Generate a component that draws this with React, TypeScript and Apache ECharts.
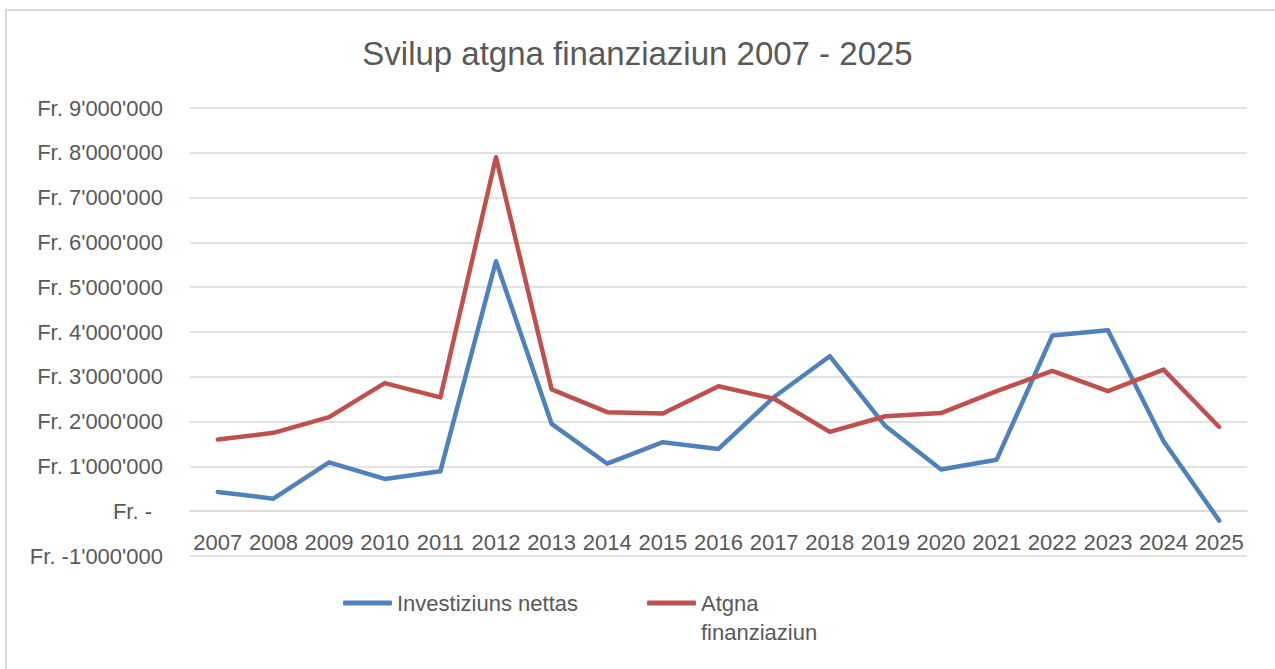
import React, { useEffect, useRef } from "react";
import * as echarts from "echarts";

const years = ["2007","2008","2009","2010","2011","2012","2013","2014","2015","2016","2017","2018","2019","2020","2021","2022","2023","2024","2025"];
const investiziunsNettas = [430000, 280000, 1090000, 720000, 890000, 5580000, 1950000, 1060000, 1540000, 1390000, 2550000, 3460000, 1900000, 930000, 1150000, 3920000, 4040000, 1560000, -210000];
const atgnaFinanziaziun = [1600000, 1750000, 2100000, 2860000, 2540000, 7900000, 2720000, 2210000, 2180000, 2790000, 2510000, 1770000, 2120000, 2190000, 2680000, 3130000, 2680000, 3160000, 1880000];

const FONT = "'Liberation Sans', Arial, sans-serif";
const TXT = "#595959";

function fmt(v: number): string {
  if (v === 0) return "{z|Fr. -}";
  const s = Math.abs(v).toString().replace(/\B(?=(\d{3})+(?!\d))/g, "'");
  return "Fr. " + (v < 0 ? "-" : "") + s;
}

export default function App() {
  const ref = useRef<HTMLDivElement>(null);
  useEffect(() => {
    if (!ref.current) return;
    const chart = echarts.init(ref.current, undefined, { renderer: "svg" });
    chart.setOption({
      animation: false,
      backgroundColor: "#ffffff",
      textStyle: { fontFamily: FONT },
      title: {
        text: "Svilup atgna finanziaziun 2007 - 2025",
        left: "center",
        top: 32,
        textStyle: { fontFamily: FONT, fontSize: 33, fontWeight: "normal", color: TXT },
      },
      graphic: [
        {
          type: "rect",
          shape: { x: 6, y: 10, width: 1300, height: 700 },
          style: { fill: "none", stroke: "#d9d9d9", lineWidth: 2 },
          silent: true,
        },
      ],
      legend: [
        {
          data: ["Investiziuns nettas"],
          left: 343,
          top: 588.5,
          padding: 0,
          itemWidth: 49,
          itemHeight: 5,
          icon: "roundRect",
          textStyle: { fontFamily: FONT, fontSize: 22, color: TXT, lineHeight: 29 },
        },
        {
          data: ["Atgna finanziaziun"],
          left: 647,
          top: 559.5,
          padding: 0,
          itemWidth: 49,
          itemHeight: 5,
          icon: "roundRect",
          formatter: () => "\u00a0\nAtgna\nfinanziaziun",
          textStyle: { fontFamily: FONT, fontSize: 22, color: TXT, lineHeight: 29 },
        },
      ],
      grid: { left: 190, right: 28, top: 108, bottom: 113, containLabel: false },
      xAxis: {
        type: "category",
        data: years,
        boundaryGap: true,
        offset: -44.8,
        axisLine: { show: true, onZero: false, lineStyle: { color: "#d9d9d9", width: 1.5 } },
        axisTick: { show: false },
        axisLabel: { fontFamily: FONT, fontSize: 22, color: TXT, margin: 20, interval: 0 },
      },
      yAxis: {
        type: "value",
        min: -1000000,
        max: 9000000,
        interval: 1000000,
        axisLine: { show: false },
        axisTick: { show: false },
        splitLine: { lineStyle: { color: "#d9d9d9", width: 1.5 } },
        axisLabel: {
          fontFamily: FONT,
          fontSize: 22,
          color: TXT,
          margin: 27,
          formatter: fmt,
          rich: { z: { fontFamily: FONT, fontSize: 22, color: TXT, padding: [0, 11, 0, 0] } },
        },
      },
      series: [
        {
          name: "Investiziuns nettas",
          type: "line",
          data: investiziunsNettas,
          symbol: "none",
          itemStyle: { color: "#4F81BD" },
          lineStyle: { color: "#4F81BD", width: 4.5, cap: "round", join: "round" },
        },
        {
          name: "Atgna finanziaziun",
          type: "line",
          data: atgnaFinanziaziun,
          symbol: "none",
          itemStyle: { color: "#C0504D" },
          lineStyle: { color: "#C0504D", width: 4.5, cap: "round", join: "round" },
        },
      ],
    });
    return () => chart.dispose();
  }, []);
  return (
    <div
      ref={ref}
      style={{ position: "fixed", left: 0, top: 0, width: 1275, height: 669 }}
    />
  );
}
